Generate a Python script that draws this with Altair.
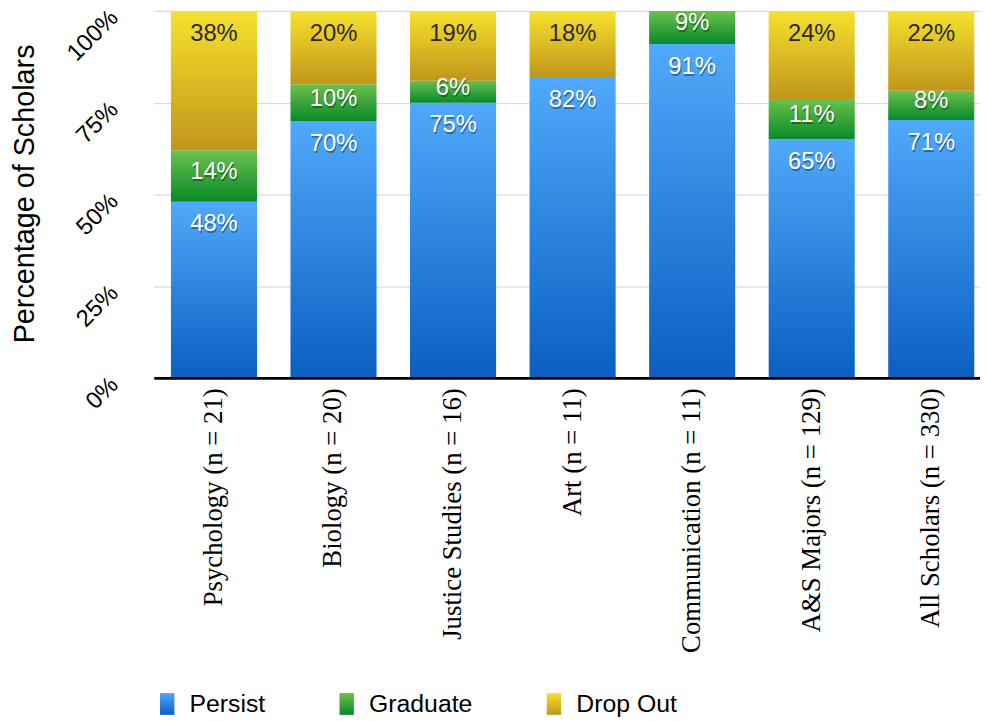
import altair as alt
import pandas as pd

categories = [
    "Psychology (n = 21)",
    "Biology (n = 20)",
    "Justice Studies (n = 16)",
    "Art (n = 11)",
    "Communication (n = 11)",
    "A&S Majors (n = 129)",
    "All Scholars (n = 330)",
]
statuses = ["Persist", "Graduate", "Drop Out"]
persist = [48, 70, 75, 82, 91, 65, 71]
graduate = [14, 10, 6, 0, 9, 11, 8]
drop_out = [38, 20, 19, 18, 0, 24, 22]
y_ticks = [0, 0.25, 0.5, 0.75, 1.0]

rows = []
for i, c in enumerate(categories):
    for k, (s, vals) in enumerate(zip(statuses, [persist, graduate, drop_out])):
        rows.append({"category": c, "status": s, "value": vals[i], "order": k})
df = pd.DataFrame(rows)


def grad(top, bottom):
    return alt.ExprRef(
        expr="{gradient: 'linear', x1: 0, y1: 0, x2: 0, y2: 1, stops: ["
        "{offset: 0, color: '%s'}, {offset: 1, color: '%s'}]}" % (top, bottom)
    )


color_range = [
    grad("#50a9fa", "#0a5fc2"),
    grad("#6cc14b", "#078a2a"),
    grad("#f7e12d", "#c1961b"),
]

SANS = "Liberation Sans"

base = alt.Chart(df).transform_stack(
    stack="value",
    groupby=["category"],
    as_=["y0", "y1"],
    offset="normalize",
    sort=[alt.SortField("order", order="ascending")],
)

x_enc = alt.X(
    "category:N",
    sort=categories,
    title=None,
    scale=alt.Scale(paddingInner=0.28, paddingOuter=0.0955, align=0.75),
    axis=alt.Axis(
        labelAngle=270,
        labelAlign="right",
        labelBaseline="middle",
        labelFont="Liberation Serif",
        labelFontSize=27,
        labelColor="black",
        labelPadding=10,
        labelLimit=400,
        ticks=False,
        domainColor="black",
        domainWidth=3,
        zindex=1,
    ),
)

bars = base.mark_bar().encode(
    x=x_enc,
    y=alt.Y(
        "y0:Q",
        scale=alt.Scale(domain=[0, 1]),
        axis=alt.Axis(
            values=y_ticks,
            format="%",
            labelAngle=315,
            labelAlign="right",
            labelBaseline="middle",
            labelPadding=40,
            labelOffset=3,
            labelFont=SANS,
            labelFontSize=24,
            labelColor="black",
            domain=False,
            ticks=False,
            grid=True,
            gridColor="#d2d2d2",
            gridWidth=1,
            title="Percentage of Scholars",
            titleFont=SANS,
            titleFontSize=29,
            titleFontWeight="normal",
            titleColor="black",
            titleAngle=270,
            titleAlign="center",
            titleBaseline="middle",
            titleX=-130,
            titleY=184,
        ),
    ),
    y2="y1:Q",
    color=alt.Color(
        "status:N",
        sort=statuses,
        scale=alt.Scale(domain=statuses, range=color_range),
        legend=alt.Legend(
            title=None,
            orient="none",
            legendX=1,
            legendY=686,
            direction="horizontal",
            symbolType="M-0.66,-1H0.66V1H-0.66Z",
            symbolSize=484,
            symbolStrokeWidth=0,
            symbolOpacity=1,
            labelFont=SANS,
            labelFontSize=25,
            labelColor="black",
            labelOffset=10,
            columnPadding=69,
        ),
    ),
)

lab = base.transform_filter("datum.value > 0").transform_calculate(
    ly="datum.y1 - min(23/370, (datum.y1 - datum.y0)/2 - 4/370)",
    txt="datum.value + '%'",
)

shadow = lab.transform_filter("datum.status != 'Drop Out'").mark_text(
    font=SANS, fontSize=24, baseline="middle", align="center",
    color="black", opacity=0.35, dx=1, dy=2,
).encode(x=alt.X("category:N", sort=categories), y="ly:Q", text="txt:N")

texts = lab.mark_text(
    font=SANS, fontSize=24, baseline="middle", align="center",
).encode(
    x=alt.X("category:N", sort=categories),
    y="ly:Q",
    text="txt:N",
    color=alt.condition("datum.status == 'Drop Out'", alt.value("#2a2a2a"), alt.value("white")),
)

chart = alt.layer(bars, shadow, texts).properties(
    width=833,
    height=370,
    autosize=alt.AutoSizeParams(type="none"),
    padding={"left": 147, "top": 0, "right": 0, "bottom": 341},
    background="white",
).configure_view(stroke=None)

chart.save("out.html", embed_options={"renderer": "svg", "actions": False})
